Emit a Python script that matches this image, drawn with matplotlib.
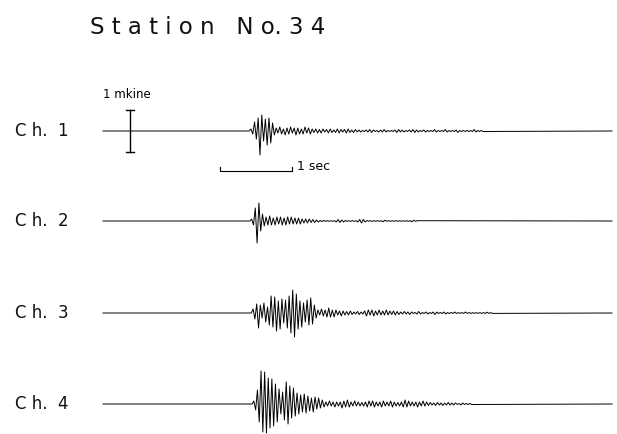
import numpy as np
import matplotlib
matplotlib.use("Agg")
import matplotlib.pyplot as plt

# velocity traces (1 mkine = 42 units), one value per half cycle
DT = 0.025          # seconds between half-cycle samples
DURATION = 7.07     # record length, seconds
MKINE = 42.0

channels = ["C h.  1", "C h.  2", "C h.  3", "C h.  4"]
onsets = [2.03, 2.04, 2.06, 2.07]

ch1 = [0, 2, -3, 9, -8, 13, -24, 16, -10, 12, -14, 13, -12, 8, -4,
       3, -2, 4, -3, 2, -4, 3, -3, 4, -2, 3, -4, 3, -3, 2, -3, 4, -2, 3, -3,
       2, -1.5, 2, -2, 1.5, -2, 2, -1, 1.5, -2, 2, -1.5, 1, -1.5, 2, -2,
       1.5, -1, 1.5, -2, 2, -1.5, 1, -1.5, 1.5, -1,
       1, -1, 0.5, -0.5, 1, -1, 1.5, -1.5, 1, -0.5, 0.5, -1, 1, -1, 1.5, -1,
       0.5, -0.5, 0.5, -0.5, 1, -1.5, 1.5, -1, 1, -1, 0.5, -0.5, 1, -1,
       1.5, -1.5, 1, -1, 0.5, -0.5, 1, -1, 0.5, -0.5,
       0.5, -0.5, 1.5, -1, 0.5, -0.5, 0.5, -0.5, 1.5, -1, 0.5, -0.5, 0.5, -0.5,
       1, -1.5, 0.5, -0.5, 0.5, -0.5, 0.5, -0.5, 0.5, -0.5, 1.5, -1, 0.5, -0.5,
       0.5, -0.5]

ch2 = [0, 2, -4, 13, -22, 18, -10, 7,
       -5, 4, -4, 5, -4, 3, -4, 4, -3, 4, -4, 3, -4, 4, -3, 4, -3, 3, -3, 3,
       -3, 2, -2, 2, -2, 2, -1.5, 1.5, -1.5, 1, -1, 0.5, -0.5, 0.5,
       -0.3, 0.3, -0.3, 0.3, -0.3, 0.3,
       -1, 1.5, -1.5, 1, -1, 0.5,
       -0.3, 0.3, -0.3, 0.3, -0.3, 0.3,
       -1, 1.5, -2, 1.5, -1, 0.5,
       -0.3, 0.3, -0.3, 0.3, -0.3, 0.3, -0.3, 0.3, -0.8, 0.8, -0.3, 0.3,
       -0.3, 0.3, -0.3, 0.3, -0.3, 0.3, -0.3, 0.3, -0.3, 0.3, -0.3, 0.3,
       -0.8, 0.8, -0.3, 0.3]

ch3 = [0, 4, -6, 9, -15, 8, -5, 10, -9, 6, -12, 17, -14, 16, -18, 12, -16,
       14, -10, 13, -15, 17, -20, 23, -24, 19, -16, 12, -14, 10, -9, 13, -12,
       15, -11, 8, -5,
       3, -2, 4, -3, 3, -4, 5, -4, 3, -4, 3, -2, 2, -3, 2, -2, 1.5, -2, 2, -1.5,
       1, -1, 1.5, -1.5, 1, -1, 2, -3, 3, -2, 3, -3, 2, -2, 3, -2, 2, -2, 3, -2,
       2, -1.5, 2, -2, 1.5, -1.5, 1, -1,
       1.5, -1, 1, -1.5, 1, -0.5, 0.5, -1, 1.5, -1, 0.5, -0.5, 1, -1, 0.5,
       -0.5, 1, -1.5, 1, -0.5, 0.5, -0.5, 1, -1, 0.5, -0.5, 0.5, -0.5, 1, -0.5,
       0.4, -0.4, 0.4, -0.4, 1, -0.4, 0.4, -0.4, 0.4, -0.4, 0.4, -0.4, 0.4,
       -0.4, 0.4, -0.4, 0.8, -0.4, 0.4, -0.4]

ch4 = [0, 3, -6, 14, -18, 33, -28, 32, -29, 26, -24, 25, -22, 20, -18, 15,
       -10, 12, -16, 22, -20, 18, -14, 16, -12, 11, -10, 9, -8, 10, -9, 8,
       -7, 6, -8, 7, -5, 6, -4, 4,
       -3, 2, -2, 3, -2, 2, -3, 2, -2, 2, -4, 3, -3, 4, -3, 2, -2, 3, -2, 2,
       -2, 1.5, -2, 2, -3, 3, -2, 3, -3, 2, -2, 2, -3, 3, -2, 2, -2, 3, -3, 2,
       -2, 1.5, -2, 2, -3, 4, -3, 3, -2, 2, -2, 2, -3, 2, -2, 3, -2, 2,
       -1.5, 1.5, -1, 1, -1.5, 1.5, -1, 1, -1.5, 1, -1, 1.5, -1, 1, -1, 1,
       -0.5, 0.5, -1, 1, -0.5, 0.5, -0.5, 0.5, -0.5]

traces = [ch1, ch2, ch3, ch4]

# page layout in pixels: x = 103 + 72 px per second, baselines of the traces
X0, PX_PER_SEC = 103, 72.0
baselines = [131, 221, 313, 404]

fig = plt.figure(figsize=(6.17, 4.34), dpi=100)
ax = fig.add_axes([0, 0, 1, 1])
ax.set_xlim(-X0 / PX_PER_SEC, (617 - X0) / PX_PER_SEC)
ax.set_ylim(434, 0)
ax.axis("off")

for name, t0, vals, base in zip(channels, onsets, traces, baselines):
    t = np.concatenate([[0.0], t0 + np.arange(len(vals)) * DT, [DURATION]])
    y = np.concatenate([[0.0], vals, [0.0]])
    ax.plot(t, base - y, color="black", lw=0.7)
    ax.text(-88 / PX_PER_SEC, base, name, fontsize=12, va="center",
            ha="left", color="#111111")

ax.text(-13 / PX_PER_SEC, 27, "S t a t i o n   N o. 3 4", fontsize=16.5,
        va="center", ha="left", color="#111111")

# amplitude scale: 1 mkine
xs = 27 / PX_PER_SEC
ax.plot([xs, xs], [131 - MKINE / 2, 131 + MKINE / 2], color="black", lw=1.0)
for yy in (131 - MKINE / 2, 131 + MKINE / 2):
    ax.plot([xs - 4 / PX_PER_SEC, xs + 4 / PX_PER_SEC], [yy, yy],
            color="black", lw=1.0)
ax.text(0, 95, "1 mkine", fontsize=8.5, va="center", ha="left")

# time scale: 1 sec
ts = (220 - X0) / PX_PER_SEC
ax.plot([ts, ts, ts + 1, ts + 1], [167, 170.5, 170.5, 167], color="black",
        lw=0.8)
ax.text(ts + 1 + 5 / PX_PER_SEC, 167, "1 sec", fontsize=9, va="center",
        ha="left")

fig.savefig("out.png", dpi=100)
